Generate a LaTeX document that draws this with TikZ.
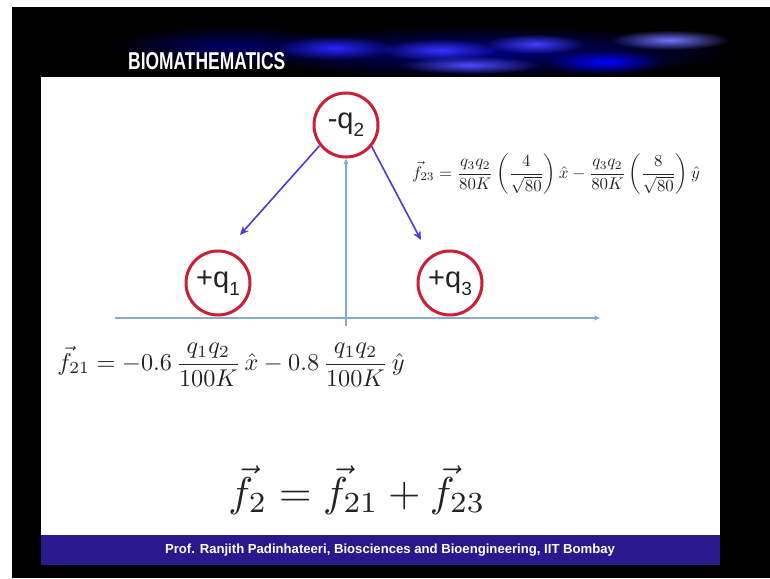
\documentclass[tikz,border=0pt]{standalone}
\usepackage{amsmath}
\usepackage{fontspec}
\newfontfamily\arialfont{Liberation Sans}
\usetikzlibrary{arrows.meta,fadings}
\definecolor{chargered}{RGB}{205,30,55}
\definecolor{axisblue}{RGB}{135,170,200}
\definecolor{forceblue}{RGB}{70,60,215}
\definecolor{footerblue}{RGB}{40,25,140}
\definecolor{inkgray}{RGB}{35,35,35}
\newcommand\chargesub[1]{\raisebox{-0.28em}{\fontsize{19}{19}\selectfont #1}}
\tikzfading[name=glow, inner color=transparent!0, outer color=transparent!100]

\begin{document}
\begin{tikzpicture}[x=1pt, y=-1pt,
	charge/.style={circle, draw=chargered, line width=3pt, minimum size=64pt, inner sep=0pt,
		font=\arialfont\fontsize{29}{30}\selectfont},
	force/.style={forceblue, line width=1.6pt, -{Stealth[length=9pt, width=8pt]}},
	axis/.style={axisblue, line width=1.4pt, -{Stealth[length=6pt, width=5pt]}},
	streak/.style={path fading=glow},
	every node/.style={text=inkgray}]
	\useasboundingbox (0,0) rectangle (770,578);
	\fill[white] (0,0) rectangle (770,578);
	\fill[black] (12,7) rectangle (770,578);
	\fill[streak, blue!40!black] (230,46) ellipse (120 and 20);
	\fill[streak, blue!50!black] (480,52) ellipse (260 and 26);
	\fill[streak, blue!85] (335,48) ellipse (60 and 12);
	\fill[streak, blue!80!white] (440,50) ellipse (60 and 11);
	\fill[streak, blue!75] (535,44) ellipse (50 and 10);
	\fill[streak, blue!55!white] (670,40) ellipse (60 and 10);
	\fill[streak, blue] (605,62) ellipse (60 and 12);
	\fill[streak, blue!70] (470,65) ellipse (70 and 9);
	\node[anchor=south west, inner sep=0pt, text=white] (title) at (128,70)
		{\resizebox{157pt}{17pt}{\arialfont\bfseries BIOMATHEMATICS}};
	\fill[white] (41,77) rectangle (720,535);
	\fill[footerblue] (41,535) rectangle (720,565);
	\node[text=white, inner sep=0pt] (credit) at (390,550)
		{\resizebox{450pt}{!}{\arialfont\bfseries Prof. Ranjith Padinhateeri, Biosciences and Bioengineering, IIT Bombay}};

	\node[charge] (q2) at (346,125) {-q\chargesub{2}};
	\node[charge] (q1) at (218,283) {+q\chargesub{1}};
	\node[charge] (q3) at (450,283) {+q\chargesub{3}};
	\coordinate (xstart) at (115,318);
	\coordinate (xend) at (600,318);
	\coordinate (ystart) at (346,326);
	\coordinate (tip1) at (240,235);
	\coordinate (tip3) at (421,240);
	\draw[axis] (xstart) -- (xend);
	\draw[axis] (ystart) -- (q2.south);
	\draw[force] (q2.218) -- (tip1);
	\draw[force] (q2.-40) -- (tip3);

	\node (f23) at (556,174) {\resizebox{288pt}{!}{$\vec f_{23} = \dfrac{q_3q_2}{80K}\left(\dfrac{4}{\sqrt{80}}\right)\hat x - \dfrac{q_3q_2}{80K}\left(\dfrac{8}{\sqrt{80}}\right)\hat y$}};
	\node (f21) at (231,365) {\resizebox{347pt}{!}{$\vec f_{21} = -0.6\,\dfrac{q_1q_2}{100K}\,\hat x - 0.8\,\dfrac{q_1q_2}{100K}\,\hat y$}};
	\node (f2) at (357,490) {\resizebox{257pt}{!}{$\vec f_2 = \vec f_{21} + \vec f_{23}$}};
\end{tikzpicture}
\end{document}
